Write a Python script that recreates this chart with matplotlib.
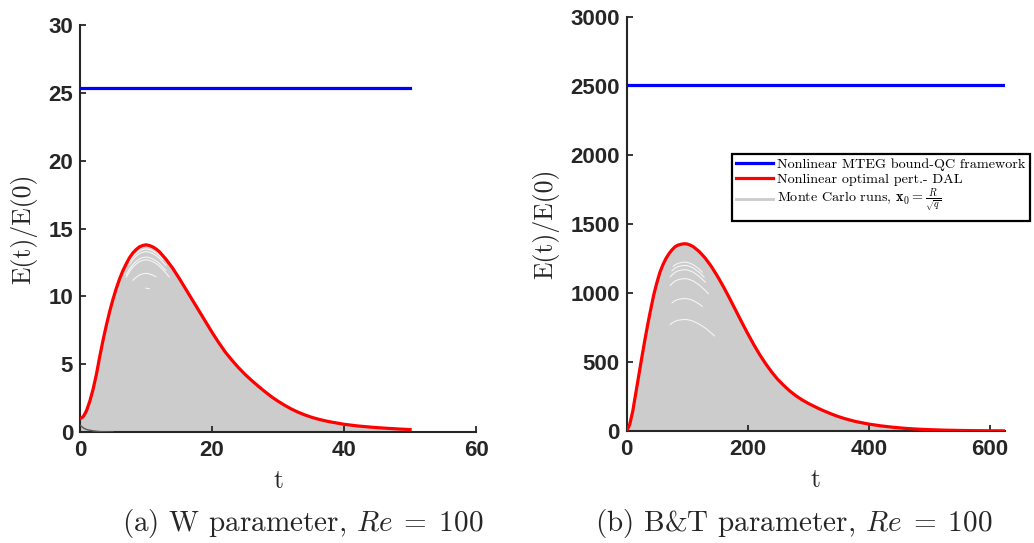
import numpy as np
import matplotlib
matplotlib.use("Agg")
import matplotlib.pyplot as plt
from matplotlib.lines import Line2D

plt.rcParams['mathtext.fontset'] = 'cm'

# ---- panel (a): W parameter ----
t_a = [0, 0.25, 0.5, 0.75, 1, 1.5, 2, 2.5, 3, 3.5, 4, 4.5, 5, 5.5, 6, 6.5, 7, 7.5, 8, 8.5,
       9, 9.5, 10, 10.5, 11, 11.5, 12, 13, 14, 15, 16, 17, 18, 19, 20, 21, 22, 23, 24, 25,
       26, 27, 28, 29, 30, 31, 32, 33, 34, 35, 36, 37, 38, 40, 42, 44, 46, 48, 50]
dal_a = [1.0, 1.05, 1.15, 1.35, 1.6, 2.3, 3.2, 4.3, 5.6, 6.8, 7.9, 8.9, 9.8, 10.6, 11.3,
         11.9, 12.4, 12.85, 13.2, 13.45, 13.65, 13.75, 13.8, 13.75, 13.65, 13.5, 13.3,
         12.75, 12.1, 11.35, 10.55, 9.75, 8.95, 8.15, 7.35, 6.6, 5.9, 5.3, 4.75, 4.25, 3.8,
         3.38, 2.98, 2.6, 2.27, 1.97, 1.7, 1.47, 1.27, 1.1, 0.96, 0.84, 0.74, 0.57, 0.45,
         0.36, 0.29, 0.23, 0.18]
bound_a = 25.35
t_end_a = 50
# low-energy runs that decay right away
t_low_a = [0, 0.5, 1, 2, 3, 4, 5]
e_low_a = [0.5, 0.3, 0.18, 0.08, 0.03, 0.01, 0.0]
# white gaps between Monte Carlo runs near the peak (peak value, t window)
gap_peaks_a = [13.5, 13.3, 12.9, 12.7, 11.7, 10.6]
gap_win_a = [(7.5, 12.5), (7.5, 13), (7, 13), (7, 13.5), (8, 11.5), (10, 10.5)]

# ---- panel (b): B&T parameter ----
t_b = [0, 5, 10, 15, 20, 25, 30, 35, 40, 45, 50, 55, 60, 65, 70, 75, 80, 85, 90, 95, 100,
       105, 110, 120, 130, 140, 150, 160, 170, 180, 190, 200, 210, 220, 230, 240, 250,
       260, 270, 280, 290, 300, 310, 320, 330, 340, 350, 360, 370, 380, 400, 420, 440,
       460, 480, 500, 525, 550, 575, 600, 625]
dal_b = [0, 45, 140, 270, 400, 530, 655, 775, 885, 990, 1075, 1150, 1205, 1250, 1285,
         1313, 1335, 1347, 1353, 1357, 1355, 1347, 1336, 1300, 1252, 1192, 1122, 1045,
         962, 876, 790, 706, 626, 552, 485, 425, 372, 328, 288, 254, 225, 200, 178, 157,
         138, 120, 104, 90, 78, 67, 50, 37, 27, 19, 13.5, 9.5, 6, 3.8, 2.4, 1.5, 0.9]
bound_b = 2505
t_end_b = 625
gap_peaks_b = [1224, 1200, 1169, 1104, 960, 808]
gap_win_b = [(77, 125), (75, 128), (72, 130), (72, 135), (75, 125), (72, 145)]

GRAY = '#cccccc'
AXC = '#262626'


def style_axes(ax):
    for s in ['top', 'right']:
        ax.spines[s].set_visible(False)
    for s in ['left', 'bottom']:
        ax.spines[s].set_color(AXC)
        ax.spines[s].set_linewidth(1.5)
    ax.tick_params(direction='in', length=4, width=1.3, color=AXC, pad=5,
                   labelsize=16, labelcolor=AXC)
    ax.tick_params(axis='x', pad=6)
    for lab in ax.get_xticklabels() + ax.get_yticklabels():
        lab.set_fontweight('bold')
        lab.set_fontfamily('Liberation Sans')


def draw_panel(ax, t, dal, bound, t_end, peaks, wins):
    t = np.array(t, float)
    dal = np.array(dal, float)
    ax.fill_between(t, 0, dal, color=GRAY, lw=0, zorder=1)
    peak = dal.max()
    for pk, (w0, w1) in zip(peaks, wins):
        m = (t >= w0) & (t <= w1)
        tt = np.concatenate([[w0], t[m], [w1]])
        ee = np.interp(tt, t, dal) * pk / peak
        ax.plot(tt, ee, color='white', lw=0.8, alpha=0.8, zorder=2)
    ax.plot(t, dal, color='red', lw=2.3, zorder=4)
    ax.plot([0, t_end], [bound, bound], color='blue', lw=2.3, zorder=4)


fig = plt.figure(figsize=(10.34, 5.43), dpi=100)
ax1 = fig.add_axes([0.0774, 0.2044, 0.383, 0.7495])
ax2 = fig.add_axes([0.606, 0.2063, 0.366, 0.7624])

draw_panel(ax1, t_a, dal_a, bound_a, t_end_a, gap_peaks_a, gap_win_a)
ax1.plot(t_low_a, e_low_a, color='#555555', lw=1.0, zorder=3)
ax1.set_xlim(0, 60)
ax1.set_ylim(0, 30)
ax1.set_xticks([0, 20, 40, 60])
ax1.set_yticks(range(0, 31, 5))

draw_panel(ax2, t_b, dal_b, bound_b, t_end_b, gap_peaks_b, gap_win_b)
ax2.set_xlim(0, 625)
ax2.set_ylim(0, 3000)
ax2.set_xticks([0, 200, 400, 600])
ax2.set_yticks(range(0, 3001, 500))

for ax in (ax1, ax2):
    style_axes(ax)
    ax.set_xlabel('t', fontfamily='cmr10', fontsize=18.5, color=AXC, labelpad=6)
    ax.set_ylabel('E(t)/E(0)', fontfamily='cmr10', fontsize=18.5, color=AXC, labelpad=8)

fig.text(0.293, 0.006, r'(a) W parameter, $Re\;=\;100$', fontfamily='cmr10',
         fontsize=21, ha='center', va='bottom', color=AXC)
fig.text(0.768, 0.006, r'(b) B&T parameter, $Re\;=\;100$', fontfamily='cmr10',
         fontsize=21, ha='center', va='bottom', color=AXC)

handles = [Line2D([], [], color='blue', lw=2.3),
           Line2D([], [], color='red', lw=2.3),
           Line2D([], [], color=GRAY, lw=2)]
labels = ['Nonlinear MTEG bound-QC framework',
          'Nonlinear optimal pert.- DAL',
          r'Monte Carlo runs, $\mathbf{x}_0 = \frac{R}{\sqrt{q}}$']
leg = ax2.legend(handles, labels, loc='upper right',
                 bbox_to_anchor=(0.996, 0.716), bbox_transform=fig.transFigure,
                 prop={'family': 'cmr10', 'size': 10.2}, fancybox=False,
                 framealpha=1, edgecolor='black', borderpad=0.3, labelspacing=0.1,
                 handlelength=2.6, handletextpad=0.3, borderaxespad=0)
leg.get_frame().set_linewidth(1.6)

fig.savefig('out.png', dpi=100)
